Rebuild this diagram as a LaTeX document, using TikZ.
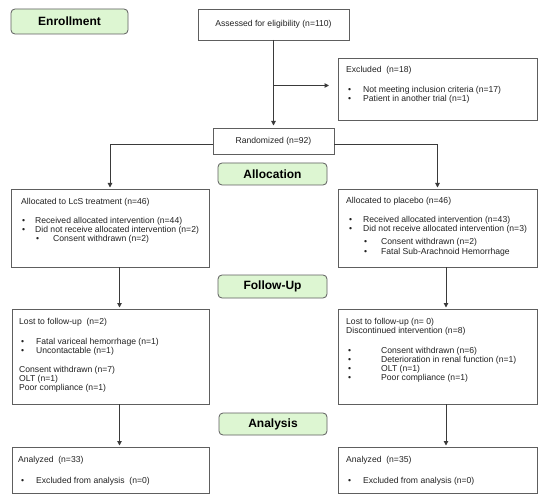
\documentclass[tikz,border=0pt]{standalone}
\usepackage{fontspec}
\setmainfont{Liberation Sans}
\usetikzlibrary{arrows.meta}
\definecolor{greenfill}{HTML}{DDF6D2}
\definecolor{boxline}{HTML}{5E5E5E}
\definecolor{conn}{HTML}{3A3A3A}
\definecolor{textcol}{HTML}{222222}
\begin{document}
\begin{tikzpicture}[x=1pt,y=-1pt,
  box/.style={draw=boxline, line width=0.9pt, inner sep=0pt, outer sep=0pt, text=textcol, font=\fontsize{8.6}{10}\selectfont},
  phase/.style={draw=boxline, line width=0.8pt, fill=greenfill, rounded corners=4pt, inner sep=0pt, outer sep=0pt, font=\fontsize{12}{14}\selectfont\bfseries, text=black},
  txt/.style={anchor=west, inner sep=0pt, font=\fontsize{8.6}{10}\selectfont, text=textcol},
  arr/.style={draw=conn, line width=1pt, -{Triangle[length=4.5pt,width=4.5pt]}, shorten >=1.5pt}]
\useasboundingbox (0,0) rectangle (550,503);
\fill[white] (0,0) rectangle (550,503);
% phase labels
\node[phase, minimum width=117pt, minimum height=25pt] (enroll) at (69.5,21.5) {Enrollment};
\node[phase, minimum width=109pt, minimum height=22pt] (alloc) at (272.5,174) {Allocation};
\node[phase, minimum width=109pt, minimum height=23pt] (follow) at (272.5,286.5) {Follow-Up};
\node[phase, minimum width=108pt, minimum height=22pt] (analysis) at (273,424) {Analysis};
% boxes
\node[box, minimum width=151pt, minimum height=31pt] (assess) at (273.5,24.5) {Assessed for eligibility (n=110)};
\node[box, minimum width=199pt, minimum height=62pt] (excl) at (437.5,89) {};
\node[box, minimum width=121pt, minimum height=26pt] (rand) at (273.5,141) {Randomized (n=92)};
\node[box, minimum width=198pt, minimum height=78pt] (lcs) at (110,228) {};
\node[box, minimum width=199pt, minimum height=78pt] (plac) at (437.5,228) {};
\node[box, minimum width=197pt, minimum height=95pt] (lcsf) at (110.5,356.5) {};
\node[box, minimum width=199pt, minimum height=95pt] (placf) at (437.5,356.5) {};
\node[box, minimum width=197pt, minimum height=46pt] (lcsa) at (110.5,470) {};
\node[box, minimum width=199pt, minimum height=46pt] (placa) at (437.5,470) {};
% connectors
\coordinate (br) at (273.5,85.5);
\coordinate (lx) at (119.5,0);
\coordinate (rx) at (446,0);
\draw[arr, shorten >=2.5pt] (assess.south) -- (rand.north);
\draw[arr, shorten >=9pt] (br) -- (excl.west |- br);
\draw[arr] ([yshift=-4pt]rand.west) -| (lcs.north);
\draw[arr] ([yshift=-4pt]rand.east) -| (plac.north);
\draw[arr] (lcs.south -| lx) -- (lcsf.north -| lx);
\draw[arr] (plac.south -| rx) -- (placf.north -| rx);
\draw[arr] (lcsf.south -| lx) -- (lcsa.north -| lx);
\draw[arr] (placf.south -| rx) -- (placa.north -| rx);
% excluded text
\node[txt] (ex0) at (346,70) {Excluded~ (n=18)};
\node[txt] (exb1) at (348,90) {•};
\node[txt] (ex1) at (363,90) {Not meeting inclusion criteria (n=17)};
\node[txt] (exb2) at (348,99) {•};
\node[txt] (ex2) at (363,99) {Patient in another trial (n=1)};
% LcS allocation
\node[txt] (l0) at (21,202) {Allocated to LcS treatment (n=46)};
\node[txt] (lb1) at (22,221) {•};
\node[txt] (l1) at (35,221) {Received allocated intervention (n=44)};
\node[txt] (lb2) at (22,230) {•};
\node[txt] (l2) at (35,230) {Did not receive allocated intervention (n=2)};
\node[txt] (lb3) at (36,239) {•};
\node[txt] (l3) at (53,239) {Consent withdrawn (n=2)};
% placebo allocation
\node[txt] (p0) at (346,201) {Allocated to placebo (n=46)};
\node[txt] (pb1) at (349,220) {•};
\node[txt] (p1) at (363,220) {Received allocated intervention (n=43)};
\node[txt] (pb2) at (349,229.5) {•};
\node[txt] (p2) at (363,229.5) {Did not receive allocated intervention (n=3)};
\node[txt] (pb3) at (364,242) {•};
\node[txt] (p3) at (381,242) {Consent withdrawn (n=2)};
\node[txt] (pb4) at (364,252) {•};
\node[txt] (p4) at (381,252) {Fatal Sub-Arachnoid Hemorrhage};
% LcS follow-up
\node[txt] (lf0) at (19,322) {Lost to follow-up~ (n=2)};
\node[txt] (lfb1) at (21,342) {•};
\node[txt] (lf1) at (36,342) {Fatal variceal hemorrhage (n=1)};
\node[txt] (lfb2) at (21,351) {•};
\node[txt] (lf2) at (36,351) {Uncontactable (n=1)};
\node[txt] (lf3) at (19,370) {Consent withdrawn (n=7)};
\node[txt] (lf4) at (19,379) {OLT (n=1)};
\node[txt] (lf5) at (19,388) {Poor compliance (n=1)};
% placebo follow-up
\node[txt] (pf0) at (346,322) {Lost to follow-up (n= 0)};
\node[txt] (pf1) at (346,331) {Discontinued intervention (n=8)};
\node[txt] (pfb2) at (348,351) {•};
\node[txt] (pf2) at (381,351) {Consent withdrawn (n=6)};
\node[txt] (pfb3) at (348,360) {•};
\node[txt] (pf3) at (381,360) {Deterioration in renal function (n=1)};
\node[txt] (pfb4) at (348,369) {•};
\node[txt] (pf4) at (381,369) {OLT (n=1)};
\node[txt] (pfb5) at (348,378) {•};
\node[txt] (pf5) at (381,378) {Poor compliance (n=1)};
% analysis
\node[txt] (la0) at (18,460) {Analyzed~ (n=33)};
\node[txt] (lab1) at (21,481) {•};
\node[txt] (la1) at (36,481) {Excluded from analysis~ (n=0)};
\node[txt] (pa0) at (346,460) {Analyzed~ (n=35)};
\node[txt] (pab1) at (348,481) {•};
\node[txt] (pa1) at (363,481) {Excluded from analysis (n=0)};
\end{tikzpicture}
\end{document}
